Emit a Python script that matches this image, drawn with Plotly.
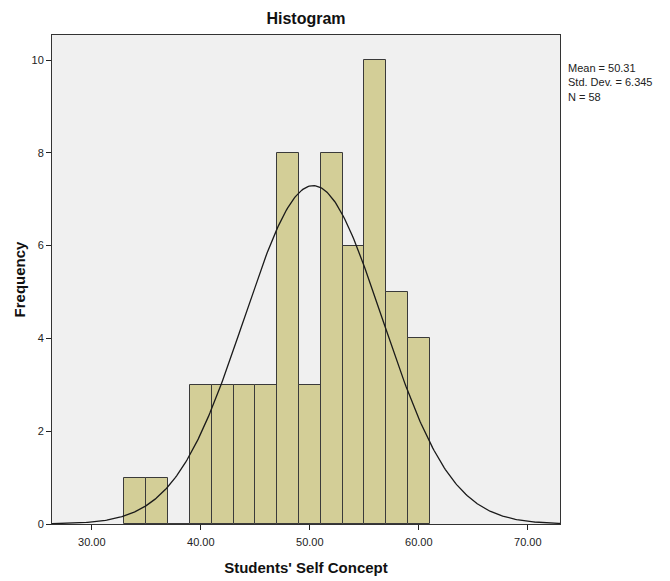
import numpy as np
import plotly.graph_objects as go

bin_starts = [33, 35, 37, 39, 41, 43, 45, 47, 49, 51, 53, 55, 57, 59]
counts = [1, 1, 0, 3, 3, 3, 3, 8, 3, 8, 6, 10, 5, 4]
bin_width = 2
mean = 50.31
sd = 6.345
n = 58
x_ticks = [30, 40, 50, 60, 70]
x_tick_labels = ["30.00", "40.00", "50.00", "60.00", "70.00"]
y_ticks = [0, 2, 4, 6, 8, 10]

centers = [s + bin_width / 2 for s in bin_starts]
xr = [26.35, 72.95]

W, H = 654, 568
L, R, T, B = 44, 102, 27, 52

fig = go.Figure()
fig.add_trace(go.Bar(
    x=centers, y=counts, width=[bin_width] * len(centers),
    marker=dict(color="#D3CE97", line=dict(color="#3a3a3a", width=1)),
    hoverinfo="skip"))

xs = np.linspace(xr[0], xr[1], 400)
ys = n * bin_width * np.exp(-0.5 * ((xs - mean) / sd) ** 2) / (sd * np.sqrt(2 * np.pi))
fig.add_trace(go.Scatter(x=xs, y=ys, mode="lines", line=dict(color="#1a1a1a", width=1.3),
                         hoverinfo="skip"))

fig.update_layout(
    width=W, height=H,
    margin=dict(l=L, r=R, t=T, b=B, autoexpand=False),
    paper_bgcolor="white", plot_bgcolor="#F0F0F0",
    showlegend=False, bargap=0,
    font=dict(family="Liberation Sans, Arial", color="#222"),
    title=dict(text="<b>Histogram</b>", x=(L + (W - R)) / 2 / W, xanchor="center",
               y=1 - 10 / H, yanchor="middle", font=dict(size=16, color="#111"),
               automargin=False),
    annotations=[dict(
        text=f"Mean = {mean:.2f}<br>Std. Dev. = {sd:.3f}<br>N = {n}",
        xref="paper", yref="paper", x=1 + 6 / (W - L - R), y=1 - 25 / (H - T - B),
        xanchor="left", yanchor="top", align="left", showarrow=False,
        font=dict(size=11, color="#222"))],
)
fig.update_xaxes(
    range=xr, tickvals=x_ticks, ticktext=x_tick_labels, automargin=False,
    ticks="outside", ticklen=5, tickcolor="#222", tickfont=dict(size=11, color="#222"),
    ticklabelstandoff=3,
    showgrid=False, zeroline=False, showline=True, linecolor="#333", linewidth=1, mirror=True,
    title=dict(text="<b>Students' Self Concept</b>", font=dict(size=15, color="#111"), standoff=18))
fig.update_yaxes(
    range=[0, 10.54], tickvals=y_ticks, automargin=False,
    ticks="outside", ticklen=5, tickcolor="#222", tickfont=dict(size=11, color="#222"),
    showgrid=False, zeroline=False, showline=True, linecolor="#333", linewidth=1, mirror=True,
    title=dict(text="<b>Frequency</b>", font=dict(size=15, color="#111"), standoff=2))

fig.write_html("out.html")
